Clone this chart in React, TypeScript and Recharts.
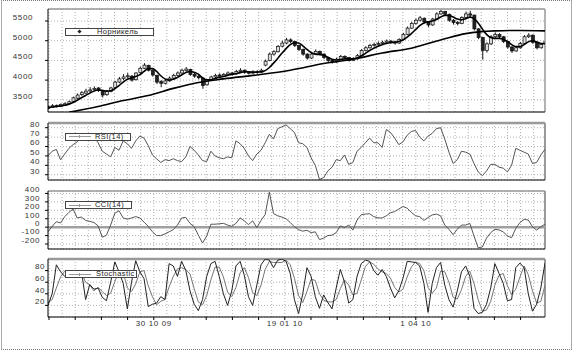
import React from 'react';
import { ComposedChart, Bar, Line, XAxis, YAxis, CartesianGrid, ReferenceLine } from 'recharts';

const FONT = '"Liberation Sans", Arial, sans-serif';

// daily bars, Norilsk Nickel, roughly Aug 2009 - Jun 2010
const OPEN = [
  3280, 3320, 3360, 3340, 3370, 3400, 3460, 3540, 3630, 3670,
  3730, 3760, 3800, 3730, 3630, 3710, 3810, 3950, 4040, 4090,
  4100, 4010, 4190, 4300, 4370, 4240, 4120, 3960, 3920, 3980,
  4050, 4120, 4180, 4240, 4270, 4150, 4100, 4050, 3880, 4000,
  4080, 4130, 4100, 4140, 4180, 4160, 4220, 4250, 4200, 4180,
  4220, 4200, 4380, 4500, 4660, 4720, 4860, 4940, 5020, 4980,
  4880, 4780, 4660, 4560, 4660, 4730, 4660, 4570, 4500, 4460,
  4530, 4600, 4570, 4500, 4540, 4620, 4750, 4820, 4880, 4900,
  4930, 4960, 4990, 4970, 4940, 5030, 5160, 5320, 5440, 5520,
  5570, 5480, 5400, 5550, 5680, 5740, 5670, 5520, 5460, 5440,
  5590, 5680, 5650, 5300, 5080, 4750, 4920, 5100, 5160, 5100,
  4980, 4840, 4740, 4820, 4930, 5100, 5140, 4960, 4820, 4900,
];
const HIGH = [
  3350, 3390, 3380, 3410, 3440, 3480, 3580, 3660, 3720, 3780,
  3820, 3840, 3820, 3750, 3750, 3830, 3980, 4080, 4150, 4180,
  4130, 4200, 4340, 4430, 4390, 4270, 4140, 4000, 4020, 4090,
  4160, 4220, 4290, 4330, 4290, 4180, 4130, 4070, 4030, 4110,
  4160, 4170, 4180, 4220, 4210, 4260, 4300, 4270, 4230, 4250,
  4250, 4290, 4520, 4700, 4760, 4890, 5000, 5070, 5060, 5000,
  4900, 4800, 4680, 4700, 4780, 4750, 4680, 4590, 4520, 4570,
  4640, 4630, 4590, 4580, 4660, 4790, 4860, 4920, 4950, 4980,
  5000, 5030, 5020, 5000, 5060, 5200, 5360, 5480, 5560, 5630,
  5590, 5500, 5580, 5720, 5790, 5760, 5690, 5550, 5500, 5620,
  5740, 5760, 5660, 5320, 5100, 4960, 5140, 5210, 5190, 5120,
  5000, 4860, 4860, 4970, 5140, 5190, 5160, 4980, 4940, 5020,
];
const LOW = [
  3260, 3300, 3300, 3320, 3350, 3380, 3440, 3520, 3600, 3650,
  3700, 3720, 3700, 3560, 3600, 3690, 3790, 3920, 4000, 4050,
  3960, 3990, 4160, 4280, 4220, 4090, 3900, 3820, 3890, 3960,
  4030, 4090, 4150, 4210, 4110, 4060, 4020, 3780, 3860, 3980,
  4050, 4070, 4080, 4110, 4120, 4140, 4190, 4160, 4140, 4150,
  4160, 4180, 4350, 4480, 4620, 4700, 4830, 4910, 4940, 4840,
  4740, 4620, 4520, 4540, 4640, 4630, 4530, 4460, 4420, 4440,
  4510, 4540, 4470, 4480, 4520, 4600, 4730, 4800, 4850, 4870,
  4900, 4930, 4930, 4900, 4920, 5010, 5140, 5300, 5410, 5490,
  5440, 5350, 5380, 5530, 5660, 5630, 5480, 5410, 5390, 5420,
  5560, 5600, 5260, 5040, 4520, 4700, 4890, 5070, 5050, 4940,
  4800, 4690, 4720, 4800, 4910, 5070, 4920, 4780, 4800, 4880,
];
const CLOSE = [
  3320, 3350, 3340, 3380, 3400, 3450, 3550, 3620, 3680, 3720,
  3750, 3790, 3740, 3620, 3720, 3800, 3950, 4030, 4080, 4110,
  4000, 4180, 4300, 4380, 4250, 4130, 3950, 3920, 3980, 4050,
  4120, 4180, 4250, 4280, 4140, 4100, 4060, 3860, 4000, 4080,
  4120, 4100, 4140, 4180, 4160, 4220, 4250, 4200, 4180, 4220,
  4200, 4250, 4480, 4660, 4720, 4850, 4940, 5020, 4980, 4880,
  4780, 4660, 4560, 4660, 4730, 4660, 4570, 4500, 4460, 4530,
  4600, 4570, 4500, 4540, 4620, 4750, 4820, 4880, 4900, 4930,
  4960, 4990, 4970, 4940, 5030, 5160, 5320, 5440, 5520, 5580,
  5480, 5400, 5550, 5680, 5740, 5670, 5520, 5460, 5440, 5590,
  5680, 5650, 5300, 5080, 4750, 4920, 5100, 5160, 5100, 4980,
  4840, 4740, 4820, 4930, 5100, 5140, 4960, 4820, 4900, 4980,
];
const MA_SHORT = [
  3300, 3315, 3330, 3340, 3360, 3390, 3430, 3490, 3550, 3610,
  3670, 3720, 3750, 3740, 3720, 3730, 3780, 3860, 3950, 4020,
  4060, 4090, 4140, 4220, 4290, 4290, 4220, 4110, 4030, 4000,
  4020, 4070, 4130, 4190, 4220, 4200, 4150, 4060, 4010, 4010,
  4040, 4070, 4090, 4120, 4140, 4160, 4190, 4210, 4210, 4200,
  4200, 4210, 4240, 4320, 4430, 4550, 4680, 4800, 4900, 4950,
  4940, 4870, 4780, 4700, 4660, 4650, 4630, 4580, 4530, 4510,
  4520, 4540, 4540, 4540, 4560, 4610, 4680, 4750, 4810, 4860,
  4900, 4930, 4950, 4960, 4980, 5020, 5090, 5180, 5280, 5380,
  5450, 5480, 5500, 5540, 5600, 5640, 5640, 5600, 5550, 5530,
  5560, 5600, 5560, 5450, 5300, 5160, 5080, 5060, 5060, 5040,
  4980, 4900, 4850, 4850, 4900, 4970, 5000, 4970, 4930, 4930,
];
// long moving average, read at a few bars only
const MA_LONG_AT = [5, 12, 18, 24, 30, 36, 42, 50, 58, 66, 74, 80, 87, 95, 100, 107, 113, 119];
const MA_LONG = [3180, 3330, 3480, 3610, 3790, 3940, 4030, 4130, 4250, 4420, 4550, 4690, 4810, 5050, 5180, 5250, 5260, 5250];

const RSI = [
  50, 55, 57, 46, 52, 58, 62, 65, 72, 70,
  67, 70, 64, 55, 52, 49, 59, 56, 66, 63,
  58, 66, 71, 69, 61, 51, 47, 43, 46, 45,
  47, 45, 44, 49, 60, 56, 51, 45, 44, 55,
  50, 48, 47, 49, 48, 66, 63, 58, 50, 45,
  52, 56, 64, 73, 68, 79, 81, 83, 79, 75,
  64, 63, 59, 48, 40, 25, 27, 34, 38, 46,
  45, 51, 41, 43, 55, 59, 64, 69, 64, 64,
  59, 78, 75, 69, 62, 65, 72, 76, 77, 70,
  66, 71, 74, 79, 80, 68, 54, 42, 46, 55,
  54, 52, 42, 33, 29, 34, 41, 41, 38, 37,
  33, 40, 58, 56, 54, 52, 42, 43, 51, 57,
];
const CCI = [
  -55, 10, 65, 50, 125, 175, 215, 109, 120, 80,
  69, 55, 15, -120, -95, 25, 165, 195, 109, 95,
  109, 125, 109, 60, 10, -55, -100, -100, -80, -55,
  -29, 25, 109, 115, 45, 5, -95, -188, -105, 35,
  35, 40, 45, 25, 10, 45, 110, 75, 30, 75,
  -5, 80, 150, 415, 160, 135, 120, 100, 55, 5,
  -30, -47, -37, -65, -55, -148, -130, -100, -95, -65,
  15, -5, 25, -35, 85, 148, 155, 160, 125, 110,
  109, 135, 170, 185, 215, 245, 225, 175, 135, 125,
  80, 115, 145, 155, 135, 25, -25, -89, -25, 25,
  25, 45, -105, -245, -235, -130, -65, -25, -33, -55,
  -105, -125, -15, 55, 93, 85, 5, -35, 5, 35,
];
const STOCH_K = [
  20, 40, 90, 78, 70, 72, 80, 70, 80, 30,
  56, 48, 50, 34, 28, 60, 95, 78, 58, 14,
  60, 97, 78, 66, 18, 22, 24, 35, 30, 92,
  88, 70, 96, 80, 45, 22, 11, 30, 70, 92,
  96, 70, 40, 20, 45, 88, 96, 72, 35, 20,
  55, 90, 100, 98, 85, 98, 100, 96, 75, 30,
  6, 40, 85, 70, 35, 15, 38, 25, 14, 50,
  82, 60, 24, 30, 70, 92, 98, 96, 80, 72,
  82, 70, 50, 33, 45, 67, 96, 95, 94, 88,
  58, 8, 58, 85, 94, 55, 30, 17, 45, 78,
  88, 70, 15, 6, 8, 22, 50, 92, 75, 58,
  28, 30, 85, 93, 85, 40, 10, 22, 50, 93,
];
const STOCH_D = [
  25, 30, 50, 69, 79, 73, 74, 74, 77, 60,
  55, 45, 51, 44, 37, 41, 61, 78, 77, 50,
  44, 57, 78, 80, 54, 35, 21, 27, 30, 52,
  70, 83, 85, 82, 74, 49, 26, 21, 37, 64,
  86, 86, 69, 43, 35, 51, 76, 85, 68, 42,
  37, 55, 82, 96, 94, 94, 94, 98, 90, 67,
  37, 25, 44, 65, 63, 40, 29, 26, 26, 30,
  49, 64, 55, 38, 41, 64, 87, 95, 91, 83,
  78, 75, 67, 51, 43, 48, 69, 86, 95, 92,
  80, 51, 41, 50, 79, 78, 60, 34, 31, 47,
  70, 79, 58, 30, 10, 12, 27, 55, 72, 75,
  54, 39, 48, 69, 88, 73, 45, 24, 27, 55,
];

const DATE_LABELS = ['', '', '', '', '30 10 09', '', '', '', '', '19 01 10', '', '', '', '', '1 04 10', '', '', '', ''];

// x ticks every 6.273 bars, dotted grid every half of that
const X_TICKS = DATE_LABELS.map((_, k) => 0.24 + k * 6.273);
const V_GRID: number[] = [];
for (let px = 49; px < 545; px += 13.1) V_GRID.push(px);

const priceData = CLOSE.map((c, i) => ({
  i, open: OPEN[i], high: HIGH[i], low: LOW[i], close: c, range: [LOW[i], HIGH[i]], ma: MA_SHORT[i],
}));
const longMaData = MA_LONG_AT.map((i, k) => ({ i, v: MA_LONG[k] }));
const indData = RSI.map((r, i) => ({ i, rsi: r, cci: CCI[i], k: STOCH_K[i], d: STOCH_D[i] }));

function Candle(props: any) {
  const { x, y, width, height, payload } = props;
  if (!payload) return null;
  const { open, close, high, low } = payload;
  const h = Math.abs(height);
  const top = Math.min(y, y + height);
  const k = h / (high - low || 1);
  const cx = x + width / 2;
  const bodyTop = top + (high - Math.max(open, close)) * k;
  const bodyH = Math.max(1, Math.abs(open - close) * k);
  const up = close >= open;
  return (
    <g>
      <line x1={cx} x2={cx} y1={top} y2={top + h} stroke="#111" strokeWidth={1} />
      <rect x={cx - 1.5} y={bodyTop} width={3} height={bodyH} fill={up ? '#ddd' : '#222'} stroke="#111" strokeWidth={0.7} />
    </g>
  );
}

const yTick = (dx: number) => (props: any) => {
  const { x, y, payload } = props;
  return (
    <text x={x - dx} y={y - 4} dy="0.35em" textAnchor="end" fontSize={8} fill="#333" fontFamily={FONT} letterSpacing={0.6}>
      {payload.value}
    </text>
  );
};

function DateTick(props: any) {
  const { x, y, index } = props;
  const label = DATE_LABELS[index];
  if (!label) return null;
  return (
    <text x={x} y={y} dy="0.71em" textAnchor="middle" fontSize={8} fill="#333" fontFamily={FONT} letterSpacing={0.6}>
      {label}
    </text>
  );
}

function LegendBox({ left, top, width, textLeft, label, diamond }: any) {
  return (
    <div style={{ position: 'absolute', left, top, width, height: 8, boxSizing: 'border-box', border: '1px solid #444', background: '#fff' }}>
      {diamond ? (
        <div style={{ position: 'absolute', left: 12, top: 1, width: 3, height: 3, background: '#222', transform: 'rotate(45deg)' }} />
      ) : (
        <>
          <div style={{ position: 'absolute', left: 3, top: 2.5, width: 22, height: 1, background: '#999' }} />
          <div style={{ position: 'absolute', left: 13, top: 1.5, width: 1, height: 3, background: '#999' }} />
        </>
      )}
      <span style={{ position: 'absolute', left: textLeft, top: -2, fontSize: 7.5, lineHeight: '10px', letterSpacing: 0.4, fontFamily: FONT, color: '#222', whiteSpace: 'nowrap' }}>
        {label}
      </span>
    </div>
  );
}

const gridProps = { stroke: '#b0b0b0', strokeDasharray: '1 2', verticalPoints: V_GRID };
const frame = '#999';

function xAxis(withLabels: boolean) {
  return (
    <XAxis
      type="number"
      dataKey="i"
      domain={[0, 119]}
      ticks={X_TICKS}
      interval={0}
      allowDataOverflow
      height={withLabels ? 20 : 8}
      axisLine={{ stroke: '#000' }}
      tickLine={{ stroke: '#000' }}
      tickSize={3}
      tickMargin={0}
      tick={withLabels ? <DateTick /> : false}
    />
  );
}

export default function App() {
  return (
    <div style={{ position: 'absolute', left: 0, top: 0, width: 573, height: 351, background: '#fff', fontFamily: FONT }}>
      <div style={{ position: 'absolute', left: 1, top: 0, width: 571, height: 350, boxSizing: 'border-box', borderTop: '1px dotted #777', borderBottom: '1px dotted #777', borderLeft: '1px solid #aaa', borderRight: '1px solid #aaa' }} />

      <div style={{ position: 'absolute', left: 0, top: 0 }}>
        <ComposedChart width={573} height={120} data={priceData} margin={{ top: 9, right: 28, bottom: 0, left: 0 }}>
          <CartesianGrid {...gridProps} />
          {xAxis(false)}
          <YAxis type="number" domain={[3190, 5805]} ticks={[3500, 4000, 4500, 5000, 5500]} interval={0} allowDataOverflow width={48}
            axisLine={{ stroke: '#000' }} tickLine={{ stroke: '#000' }} tickSize={3} tickMargin={0} tick={yTick(12)} />
          <ReferenceLine y={5805} stroke={frame} strokeWidth={1.5} />
          <ReferenceLine x={119} stroke={frame} strokeWidth={1.5} />
          <Bar dataKey="range" barSize={3} shape={<Candle />} isAnimationActive={false} />
          <Line dataKey="ma" type="monotone" stroke="#000" strokeWidth={1.6} dot={false} isAnimationActive={false} />
          <Line data={longMaData} dataKey="v" type="monotone" stroke="#000" strokeWidth={1.6} dot={false} isAnimationActive={false} />
        </ComposedChart>
      </div>

      <div style={{ position: 'absolute', left: 0, top: 112 }}>
        <ComposedChart width={573} height={76} data={indData} margin={{ top: 11, right: 28, bottom: 0, left: 0 }}>
          <CartesianGrid {...gridProps} />
          {xAxis(false)}
          <YAxis type="number" domain={[24.4, 85]} ticks={[30, 40, 50, 60, 70, 80]} interval={0} allowDataOverflow width={48}
            axisLine={{ stroke: '#000' }} tickLine={{ stroke: '#000' }} tickSize={3} tickMargin={0} tick={yTick(5)} />
          <ReferenceLine y={85} stroke={frame} strokeWidth={2.5} />
          <ReferenceLine x={119} stroke={frame} strokeWidth={2} />
          <Line dataKey="rsi" type="linear" stroke="#555" strokeWidth={1} dot={false} isAnimationActive={false} />
        </ComposedChart>
      </div>

      <div style={{ position: 'absolute', left: 0, top: 180 }}>
        <ComposedChart width={573} height={77} data={indData} margin={{ top: 11, right: 28, bottom: 0, left: 0 }}>
          <CartesianGrid {...gridProps} />
          {xAxis(false)}
          <YAxis type="number" domain={[-259, 429]} ticks={[-200, -100, 0, 100, 200, 300, 400]} interval={0} allowDataOverflow width={48}
            axisLine={{ stroke: '#000' }} tickLine={{ stroke: '#000' }} tickSize={3} tickMargin={0} tick={yTick(5)} />
          <ReferenceLine y={429} stroke={frame} strokeWidth={1.5} />
          <ReferenceLine x={119} stroke={frame} strokeWidth={2} />
          <ReferenceLine y={0} stroke="#a0a0a0" strokeWidth={2.5} />
          <Line dataKey="cci" type="linear" stroke="#555" strokeWidth={1} dot={false} isAnimationActive={false} />
        </ComposedChart>
      </div>

      <div style={{ position: 'absolute', left: 0, top: 249 }}>
        <ComposedChart width={573} height={88} data={indData} margin={{ top: 10, right: 28, bottom: 0, left: 0 }}>
          <CartesianGrid {...gridProps} />
          {xAxis(true)}
          <YAxis type="number" domain={[0, 100]} ticks={[20, 40, 60, 80]} interval={0} allowDataOverflow width={48}
            axisLine={{ stroke: '#000' }} tickLine={{ stroke: '#000' }} tickSize={3} tickMargin={0} tick={yTick(0)} />
          <ReferenceLine y={100} stroke={frame} strokeWidth={2.5} />
          <ReferenceLine x={119} stroke={frame} strokeWidth={2} />
          <Line dataKey="d" type="linear" stroke="#777" strokeWidth={1} dot={false} isAnimationActive={false} />
          <Line dataKey="k" type="linear" stroke="#222" strokeWidth={1} dot={false} isAnimationActive={false} />
        </ComposedChart>
      </div>

      <LegendBox left={65} top={28} width={89} textLeft={31} label="Норникель" diamond />
      <LegendBox left={65} top={132.5} width={66} textLeft={29} label="RSI(14)" />
      <LegendBox left={65} top={201} width={67} textLeft={29} label="CCI(14)" />
      <LegendBox left={65} top={270} width={72} textLeft={30} label="Stochastic" />
    </div>
  );
}
